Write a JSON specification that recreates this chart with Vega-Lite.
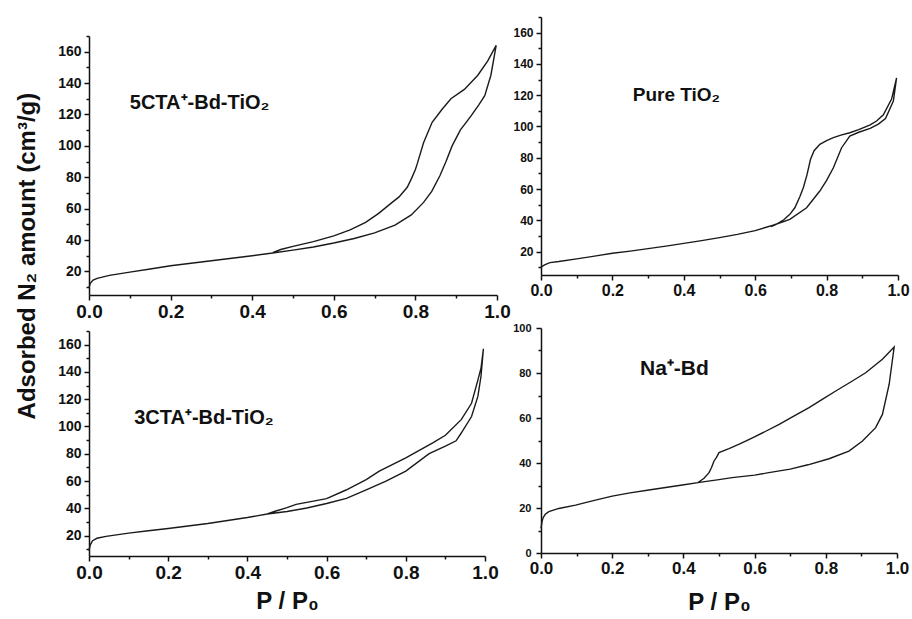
{
  "$schema": "https://vega.github.io/schema/vega-lite/v6.json",
  "padding": {"left": 15, "top": 16, "right": 0, "bottom": 0},
  "background": "white",
  "title": {"text": "Adsorbed N₂ amount  (cm³/g)", "orient": "left", "anchor": "middle", "font": "Liberation Sans", "fontSize": 24, "fontWeight": "bold", "color": "#111", "offset": 18, "dx": 59},
  "datasets": {
    "p1": [
      {"i":1,"P":0,"V":9.5},{"i":2,"P":0.003,"V":12.5},{"i":3,"P":0.01,"V":14.5},{"i":4,"P":0.02,"V":15.6},{"i":5,"P":0.05,"V":17.5},
      {"i":6,"P":0.1,"V":19.6},{"i":7,"P":0.15,"V":21.6},{"i":8,"P":0.2,"V":23.6},{"i":9,"P":0.25,"V":25.2},{"i":10,"P":0.3,"V":26.8},
      {"i":11,"P":0.35,"V":28.4},{"i":12,"P":0.4,"V":30},{"i":13,"P":0.45,"V":31.8},{"i":14,"P":0.5,"V":33.6},{"i":15,"P":0.55,"V":35.6},
      {"i":16,"P":0.6,"V":38.1},{"i":17,"P":0.65,"V":41},{"i":18,"P":0.7,"V":44.6},{"i":19,"P":0.75,"V":49.5},{"i":20,"P":0.79,"V":56},
      {"i":21,"P":0.82,"V":64},{"i":22,"P":0.84,"V":71},{"i":23,"P":0.86,"V":81},{"i":24,"P":0.875,"V":90},{"i":25,"P":0.89,"V":100},
      {"i":26,"P":0.91,"V":110},{"i":27,"P":0.936,"V":119},{"i":28,"P":0.955,"V":126},{"i":29,"P":0.97,"V":132},{"i":30,"P":0.985,"V":145},
      {"i":31,"P":0.998,"V":164},{"i":32,"P":0.977,"V":154},{"i":33,"P":0.953,"V":145},{"i":34,"P":0.92,"V":136},{"i":35,"P":0.887,"V":130},
      {"i":36,"P":0.866,"V":123.5},{"i":37,"P":0.841,"V":115},{"i":38,"P":0.82,"V":102},{"i":39,"P":0.805,"V":89},{"i":40,"P":0.8,"V":85},
      {"i":41,"P":0.79,"V":79},{"i":42,"P":0.78,"V":73.6},{"i":43,"P":0.76,"V":67.5},{"i":44,"P":0.743,"V":64},{"i":45,"P":0.71,"V":57},
      {"i":46,"P":0.678,"V":51.3},{"i":47,"P":0.64,"V":46.5},{"i":48,"P":0.6,"V":42.7},{"i":49,"P":0.55,"V":39},{"i":50,"P":0.5,"V":36},
      {"i":51,"P":0.47,"V":34},{"i":52,"P":0.45,"V":32}
    ],
    "p2": [
      {"i":1,"P":0,"V":10},{"i":2,"P":0.01,"V":11.5},{"i":3,"P":0.025,"V":12.9},{"i":4,"P":0.05,"V":13.6},{"i":5,"P":0.1,"V":15.3},
      {"i":6,"P":0.15,"V":17.1},{"i":7,"P":0.2,"V":18.9},{"i":8,"P":0.25,"V":20.3},{"i":9,"P":0.3,"V":21.9},{"i":10,"P":0.35,"V":23.5},
      {"i":11,"P":0.4,"V":25.2},{"i":12,"P":0.45,"V":27},{"i":13,"P":0.5,"V":28.9},{"i":14,"P":0.55,"V":31},{"i":15,"P":0.6,"V":33.4},
      {"i":16,"P":0.65,"V":36.8},{"i":17,"P":0.697,"V":40.6},{"i":18,"P":0.744,"V":48},{"i":19,"P":0.781,"V":58.7},{"i":20,"P":0.8,"V":65.5},
      {"i":21,"P":0.819,"V":73.6},{"i":22,"P":0.842,"V":86.4},{"i":23,"P":0.865,"V":93.9},{"i":24,"P":0.89,"V":96.3},{"i":25,"P":0.922,"V":98.8},
      {"i":26,"P":0.945,"V":101.5},{"i":27,"P":0.965,"V":105},{"i":28,"P":0.987,"V":116.3},{"i":29,"P":0.996,"V":131},{"i":30,"P":0.982,"V":117.5},
      {"i":31,"P":0.959,"V":107.5},{"i":32,"P":0.94,"V":103.5},{"i":33,"P":0.922,"V":101},{"i":34,"P":0.89,"V":98},{"i":35,"P":0.865,"V":96},
      {"i":36,"P":0.84,"V":94.5},{"i":37,"P":0.819,"V":92.8},{"i":38,"P":0.8,"V":91},{"i":39,"P":0.781,"V":88.6},{"i":40,"P":0.765,"V":84.5},
      {"i":41,"P":0.755,"V":79},{"i":42,"P":0.745,"V":69},{"i":43,"P":0.735,"V":61},{"i":44,"P":0.725,"V":55},{"i":45,"P":0.711,"V":48},
      {"i":46,"P":0.697,"V":43.8},{"i":47,"P":0.68,"V":40.3},{"i":48,"P":0.66,"V":37.6},{"i":49,"P":0.645,"V":36}
    ],
    "p3": [
      {"i":1,"P":0,"V":9},{"i":2,"P":0.003,"V":13},{"i":3,"P":0.009,"V":16.2},{"i":4,"P":0.02,"V":18},{"i":5,"P":0.043,"V":19.4},
      {"i":6,"P":0.1,"V":21.8},{"i":7,"P":0.15,"V":23.5},{"i":8,"P":0.2,"V":25.2},{"i":9,"P":0.25,"V":27},{"i":10,"P":0.3,"V":28.8},
      {"i":11,"P":0.35,"V":31},{"i":12,"P":0.4,"V":33.2},{"i":13,"P":0.45,"V":35.8},{"i":14,"P":0.5,"V":37.6},{"i":15,"P":0.55,"V":40.2},
      {"i":16,"P":0.6,"V":43.5},{"i":17,"P":0.65,"V":47.3},{"i":18,"P":0.7,"V":53.5},{"i":19,"P":0.75,"V":59.9},{"i":20,"P":0.8,"V":67.2},
      {"i":21,"P":0.859,"V":80.1},{"i":22,"P":0.9,"V":85.5},{"i":23,"P":0.927,"V":89.5},{"i":24,"P":0.94,"V":95.2},{"i":25,"P":0.966,"V":107.3},
      {"i":26,"P":0.982,"V":122},{"i":27,"P":0.99,"V":137},{"i":28,"P":0.996,"V":157},{"i":29,"P":0.99,"V":143},{"i":30,"P":0.982,"V":134},
      {"i":31,"P":0.966,"V":117},{"i":32,"P":0.94,"V":105},{"i":33,"P":0.9,"V":93.5},{"i":34,"P":0.868,"V":87.9},{"i":35,"P":0.8,"V":77},
      {"i":36,"P":0.733,"V":67.2},{"i":37,"P":0.7,"V":61},{"i":38,"P":0.649,"V":53.4},{"i":39,"P":0.6,"V":47.1},{"i":40,"P":0.55,"V":44.3},
      {"i":41,"P":0.523,"V":42.9},{"i":42,"P":0.5,"V":40.5},{"i":43,"P":0.47,"V":37.8},{"i":44,"P":0.45,"V":35.8}
    ],
    "p4": [
      {"i":1,"P":0,"V":11},{"i":2,"P":0.003,"V":14},{"i":3,"P":0.006,"V":15.7},{"i":4,"P":0.012,"V":17.2},{"i":5,"P":0.022,"V":18.4},
      {"i":6,"P":0.05,"V":19.8},{"i":7,"P":0.097,"V":21.3},{"i":8,"P":0.15,"V":23.4},{"i":9,"P":0.2,"V":25.3},{"i":10,"P":0.25,"V":26.7},
      {"i":11,"P":0.303,"V":28},{"i":12,"P":0.35,"V":29.1},{"i":13,"P":0.397,"V":30.2},{"i":14,"P":0.45,"V":31.5},{"i":15,"P":0.5,"V":32.6},
      {"i":16,"P":0.537,"V":33.5},{"i":17,"P":0.6,"V":34.6},{"i":18,"P":0.64,"V":35.7},{"i":19,"P":0.7,"V":37.3},{"i":20,"P":0.75,"V":39.2},
      {"i":21,"P":0.809,"V":41.9},{"i":22,"P":0.865,"V":45.3},{"i":23,"P":0.903,"V":49.8},{"i":24,"P":0.94,"V":55.7},{"i":25,"P":0.959,"V":61.6},
      {"i":26,"P":0.978,"V":75},{"i":27,"P":0.992,"V":91.5},{"i":28,"P":0.959,"V":86.1},{"i":29,"P":0.912,"V":80.1},{"i":30,"P":0.87,"V":76},
      {"i":31,"P":0.828,"V":72},{"i":32,"P":0.79,"V":68.3},{"i":33,"P":0.753,"V":64.6},{"i":34,"P":0.71,"V":60.8},{"i":35,"P":0.669,"V":57.2},
      {"i":36,"P":0.63,"V":54},{"i":37,"P":0.594,"V":51.2},{"i":38,"P":0.56,"V":48.6},{"i":39,"P":0.528,"V":46.4},{"i":40,"P":0.5,"V":44.6},
      {"i":41,"P":0.493,"V":42.5},{"i":42,"P":0.486,"V":40.9},{"i":43,"P":0.479,"V":38},{"i":44,"P":0.472,"V":35.7},{"i":45,"P":0.458,"V":33.2},
      {"i":46,"P":0.44,"V":31.2}
    ]
  },
  "spacing": 1,
  "hconcat": [
    {
      "spacing": 9,
      "vconcat": [
        {
          "width": 10, "height": 9,
          "data": {"values": []},
          "mark": {"type": "point", "opacity": 0}
        },
        {
          "width": 408, "height": 259,
          "layer": [
            {
              "data": {"name": "p1"},
              "mark": {"type": "line", "stroke": "#1a1a1a", "strokeWidth": 1.4},
              "encoding": {
                "x": {"field": "P", "type": "quantitative", "scale": {"domain": [0, 1], "nice": false, "zero": false}, "axis": {"values": [0, 0.2, 0.4, 0.6, 0.8, 1], "format": ".1f", "title": null, "labelFontSize": 19}},
                "y": {"field": "V", "type": "quantitative", "scale": {"domain": [5, 170], "nice": false, "zero": false}, "axis": {"values": [20, 40, 60, 80, 100, 120, 140, 160], "title": null, "labelFontSize": 14, "labelPadding": 3}},
                "order": {"field": "i", "type": "quantitative"}
              }
            },
            {
              "data": {"values": [{"P": 0.1, "V": 127, "t": "5CTA⁺-Bd-TiO₂"}]},
              "mark": {"type": "text", "align": "left", "baseline": "middle", "font": "Liberation Sans", "fontSize": 20, "fontWeight": "bold", "color": "#111"},
              "encoding": {
                "x": {"field": "P", "type": "quantitative", "scale": {"domain": [0, 1], "nice": false, "zero": false}, "axis": {"values": [0.1, 0.3, 0.5, 0.7, 0.9], "labels": false, "domain": false, "tickSize": 3, "title": null, "orient": "bottom"}},
                "y": {"field": "V", "type": "quantitative", "scale": {"domain": [5, 170], "nice": false, "zero": false}, "axis": {"values": [10, 30, 50, 70, 90, 110, 130, 150, 170], "labels": false, "domain": false, "tickSize": 3, "title": null, "orient": "left"}},
                "text": {"field": "t"}
              }
            }
          ],
          "resolve": {"axis": {"x": "independent", "y": "independent"}}
        },
        {
          "width": 396, "height": 225,
          "layer": [
            {
              "data": {"name": "p3"},
              "mark": {"type": "line", "stroke": "#1a1a1a", "strokeWidth": 1.4},
              "encoding": {
                "x": {"field": "P", "type": "quantitative", "scale": {"domain": [0, 1], "nice": false, "zero": false}, "axis": {"values": [0, 0.2, 0.4, 0.6, 0.8, 1], "format": ".1f", "title": "P / P₀", "titlePadding": 7, "labelFontSize": 19}},
                "y": {"field": "V", "type": "quantitative", "scale": {"domain": [5, 170], "nice": false, "zero": false}, "axis": {"values": [20, 40, 60, 80, 100, 120, 140, 160], "title": null, "labelFontSize": 14, "labelPadding": 3}},
                "order": {"field": "i", "type": "quantitative"}
              }
            },
            {
              "data": {"values": [{"P": 0.114, "V": 106, "t": "3CTA⁺-Bd-TiO₂"}]},
              "mark": {"type": "text", "align": "left", "baseline": "middle", "font": "Liberation Sans", "fontSize": 20, "fontWeight": "bold", "color": "#111"},
              "encoding": {
                "x": {"field": "P", "type": "quantitative", "scale": {"domain": [0, 1], "nice": false, "zero": false}, "axis": {"values": [0.1, 0.3, 0.5, 0.7, 0.9], "labels": false, "domain": false, "tickSize": 3, "title": null, "orient": "bottom"}},
                "y": {"field": "V", "type": "quantitative", "scale": {"domain": [5, 170], "nice": false, "zero": false}, "axis": {"values": [10, 30, 50, 70, 90, 110, 130, 150, 170], "labels": false, "domain": false, "tickSize": 3, "title": null, "orient": "left"}},
                "text": {"field": "t"}
              }
            }
          ],
          "resolve": {"axis": {"x": "independent", "y": "independent"}}
        }
      ]
    },
    {
      "spacing": 24,
      "vconcat": [
        {
          "width": 357, "height": 258,
          "layer": [
            {
              "data": {"name": "p2"},
              "mark": {"type": "line", "stroke": "#1a1a1a", "strokeWidth": 1.4},
              "encoding": {
                "x": {"field": "P", "type": "quantitative", "scale": {"domain": [0, 1], "nice": false, "zero": false}, "axis": {"values": [0, 0.2, 0.4, 0.6, 0.8, 1], "format": ".1f", "title": null, "labelFontSize": 16}},
                "y": {"field": "V", "type": "quantitative", "scale": {"domain": [5, 170], "nice": false, "zero": false}, "axis": {"values": [20, 40, 60, 80, 100, 120, 140, 160], "title": null, "labelFontSize": 12, "labelPadding": 3}},
                "order": {"field": "i", "type": "quantitative"}
              }
            },
            {
              "data": {"values": [{"P": 0.257, "V": 120, "t": "Pure TiO₂"}]},
              "mark": {"type": "text", "align": "left", "baseline": "middle", "font": "Liberation Sans", "fontSize": 19, "fontWeight": "bold", "color": "#111"},
              "encoding": {
                "x": {"field": "P", "type": "quantitative", "scale": {"domain": [0, 1], "nice": false, "zero": false}, "axis": {"values": [0.1, 0.3, 0.5, 0.7, 0.9], "labels": false, "domain": false, "tickSize": 3, "title": null, "orient": "bottom"}},
                "y": {"field": "V", "type": "quantitative", "scale": {"domain": [5, 170], "nice": false, "zero": false}, "axis": {"values": [10, 30, 50, 70, 90, 110, 130, 150, 170], "labels": false, "domain": false, "tickSize": 3, "title": null, "orient": "left"}},
                "text": {"field": "t"}
              }
            }
          ],
          "resolve": {"axis": {"x": "independent", "y": "independent"}}
        },
        {
          "width": 356, "height": 225,
          "layer": [
            {
              "data": {"name": "p4"},
              "mark": {"type": "line", "stroke": "#1a1a1a", "strokeWidth": 1.4},
              "encoding": {
                "x": {"field": "P", "type": "quantitative", "scale": {"domain": [0, 1], "nice": false, "zero": false}, "axis": {"values": [0, 0.2, 0.4, 0.6, 0.8, 1], "format": ".1f", "title": "P / P₀", "titlePadding": 14, "labelFontSize": 17}},
                "y": {"field": "V", "type": "quantitative", "scale": {"domain": [0, 100], "nice": false, "zero": false}, "axis": {"values": [0, 20, 40, 60, 80, 100], "title": null, "labelFontSize": 11, "labelPadding": 5}},
                "order": {"field": "i", "type": "quantitative"}
              }
            },
            {
              "data": {"values": [{"P": 0.278, "V": 82, "t": "Na⁺-Bd"}]},
              "mark": {"type": "text", "align": "left", "baseline": "middle", "font": "Liberation Sans", "fontSize": 21, "fontWeight": "bold", "color": "#111"},
              "encoding": {
                "x": {"field": "P", "type": "quantitative", "scale": {"domain": [0, 1], "nice": false, "zero": false}, "axis": {"values": [0.1, 0.3, 0.5, 0.7, 0.9], "labels": false, "domain": false, "tickSize": 3, "title": null, "orient": "bottom"}},
                "y": {"field": "V", "type": "quantitative", "scale": {"domain": [0, 100], "nice": false, "zero": false}, "axis": {"values": [10, 30, 50, 70, 90], "labels": false, "domain": false, "tickSize": 3, "title": null, "orient": "left"}},
                "text": {"field": "t"}
              }
            }
          ],
          "resolve": {"axis": {"x": "independent", "y": "independent"}}
        }
      ]
    }
  ],
  "config": {
    "view": {"stroke": null},
    "axis": {
      "grid": false, "labelFlush": false,
      "labelFont": "Liberation Sans", "labelFontWeight": "bold", "labelColor": "#111",
      "titleFont": "Liberation Sans", "titleFontWeight": "bold", "titleColor": "#111", "titleFontSize": 24,
      "domainColor": "#111", "tickColor": "#111", "domainWidth": 1.5, "tickWidth": 1.5,
      "tickSize": 5, "labelPadding": 2
    }
  }
}
